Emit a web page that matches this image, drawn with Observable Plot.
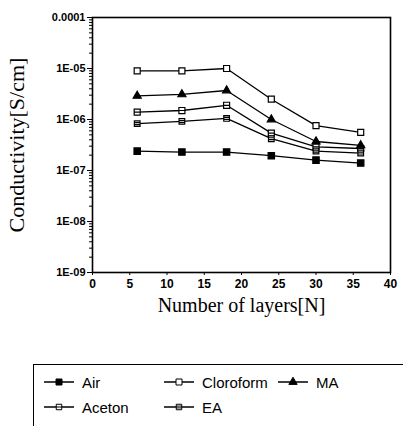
<!DOCTYPE html>
<html><head><meta charset="utf-8">
<script src="https://cdn.jsdelivr.net/npm/d3@7"></script>
<script src="https://cdn.jsdelivr.net/npm/@observablehq/plot@0.6"></script>
<style>
body{margin:0;background:#fff;width:403px;height:426px;overflow:hidden;position:relative;font-family:"Liberation Sans",Arial,sans-serif;}
#legend{position:absolute;left:33px;top:364px;width:400px;height:70px;border-left:1.5px solid #000;border-top:1.5px solid #000;box-sizing:border-box;}
.item{position:absolute;font-size:15px;color:#000;display:flex;align-items:center;}
.item svg{margin-right:6px;}
</style></head>
<body>
<div id="chart"></div>
<div id="legend"></div>
<script>
const layers = [6, 12, 18, 24, 30, 36];
const air = [2.4e-7, 2.3e-7, 2.3e-7, 1.95e-7, 1.6e-7, 1.4e-7];
const aceton = [1.4e-6, 1.5e-6, 1.9e-6, 5.4e-7, 2.9e-7, 2.7e-7];
const cloroform = [9e-6, 9e-6, 1e-5, 2.5e-6, 7.6e-7, 5.6e-7];
const ma = [2.9e-6, 3.1e-6, 3.7e-6, 1.0e-6, 3.7e-7, 3.1e-7];
const ea = [8.3e-7, 9.2e-7, 1.05e-6, 4.2e-7, 2.4e-7, 2.2e-7];
const seriesNames = ["Air", "Aceton", "Cloroform", "MA", "EA"];
const yTickValues = [1e-9, 1e-8, 1e-7, 1e-6, 1e-5, 1e-4];
const yTickLabels = ["1E-09", "1E-08", "1E-07", "1E-06", "1E-05", "0.0001"];
const xTickValues = [0, 5, 10, 15, 20, 25, 30, 35, 40];

const seriesValues = [air, aceton, cloroform, ma, ea];
const data = [];
seriesNames.forEach((s, i) => layers.forEach((x, j) => data.push({series: s, x, y: seriesValues[i][j]})));

const squareLine = {draw(c, size){const r = Math.sqrt(size)/2; c.rect(-r,-r,2*r,2*r); c.moveTo(-r,0); c.lineTo(r,0);}};
const squareEq = {draw(c, size){const r = Math.sqrt(size)/2; c.rect(-r,-r,2*r,2*r); c.moveTo(-r,-r/3); c.lineTo(r,-r/3); c.moveTo(-r,r/3); c.lineTo(r,r/3);}};
const style = {
  Air: {symbol: "square", fill: "#000", r: 3.6},
  Aceton: {symbol: squareLine, fill: "#fff", r: 3.4},
  Cloroform: {symbol: "square", fill: "#fff", r: 3.4},
  MA: {symbol: "triangle", fill: "#000", r: 3.0},
  EA: {symbol: squareEq, fill: "#fff", r: 3.2}
};

const minor = [];
for (let e = -9; e < -4; e++) for (let m = 2; m <= 9; m++) minor.push(m * Math.pow(10, e));

const marks = [
  Plot.frame({stroke: "#000", strokeWidth: 1.6}),
  Plot.axisY({ticks: minor, tickSize: 3, tickFormat: null, text: null, label: null, strokeWidth: 1}),
  Plot.axisY({ticks: yTickValues, tickSize: 5, tickPadding: 2, tickFormat: d => yTickLabels[yTickValues.indexOf(d)], fontSize: 11, fontWeight: "bold", fontFamily: "Liberation Sans, Arial, sans-serif", label: null}),
  Plot.axisX({ticks: xTickValues, tickSize: 3, tickPadding: 4, fontSize: 12, fontWeight: "bold", fontFamily: "Liberation Sans, Arial, sans-serif", label: null}),
  Plot.text(["Conductivity[S/cm]"], {frameAnchor: "left", textAnchor: "middle", lineAnchor: "middle", dx: -76, rotate: -90, fontSize: 22, fontFamily: "Liberation Serif, Times New Roman, serif"}),
  Plot.text(["Number of layers[N]"], {frameAnchor: "bottom", lineAnchor: "middle", dy: 33, fontSize: 20, fontFamily: "Liberation Serif, Times New Roman, serif"}),
  Plot.line(data, {x: "x", y: "y", z: "series", stroke: "#000", strokeWidth: 1.3})
];
for (const s of seriesNames) {
  const st = style[s];
  marks.push(Plot.dot(data.filter(d => d.series === s), {x: "x", y: "y", symbol: () => st.symbol, r: st.r, fill: st.fill, stroke: "#000", strokeWidth: 1.2}));
}

const chart = Plot.plot({
  width: 403, height: 330,
  marginLeft: 92, marginRight: 13, marginTop: 17, marginBottom: 58,
  x: {domain: [0, 40]},
  y: {type: "log", domain: [1e-9, 1e-4]},
  symbol: {type: "identity"},
  style: {background: "#fff", color: "#000"},
  marks
});
document.getElementById("chart").appendChild(chart);

// Legend
const legendPos = {Air: [8, 8], Cloroform: [128, 8], MA: [242, 8], Aceton: [8, 33], EA: [128, 33]};
const legend = document.getElementById("legend");
for (const s of seriesNames) {
  const st = style[s];
  const div = document.createElement("div");
  div.className = "item";
  div.style.left = legendPos[s][0] + "px";
  div.style.top = legendPos[s][1] + "px";
  const svg = d3.create("svg").attr("width", 34).attr("height", 18);
  svg.append("line").attr("x1", 2).attr("x2", 32).attr("y1", 9).attr("y2", 9).attr("stroke", "#000").attr("stroke-width", 1.5);
  const size = st.symbol === "square" ? 36 : st.symbol === "triangle" ? 30 : 30;
  const sym = typeof st.symbol === "string" ? (st.symbol === "square" ? d3.symbolSquare : d3.symbolTriangle) : st.symbol;
  svg.append("path").attr("transform", "translate(17,9)").attr("d", d3.symbol(sym, size)()).attr("fill", st.fill).attr("stroke", "#000").attr("stroke-width", 1);
  div.appendChild(svg.node());
  div.appendChild(document.createTextNode(s));
  legend.appendChild(div);
}
</script>
</body></html>
